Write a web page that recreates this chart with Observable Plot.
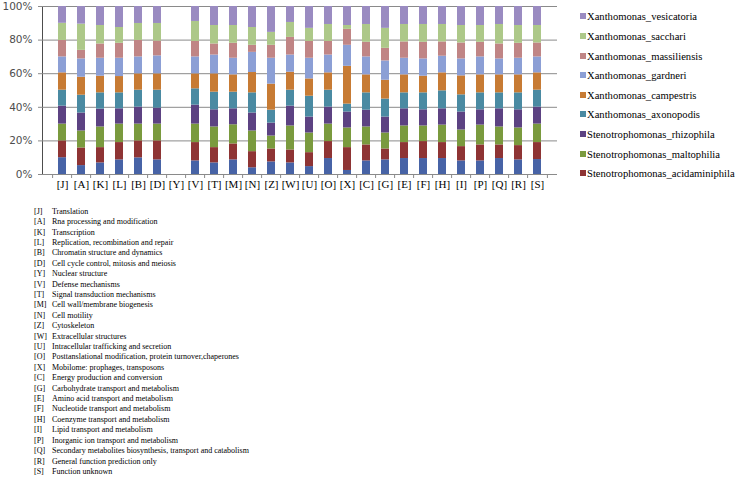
<!DOCTYPE html>
<html>
<head>
<meta charset="utf-8">
<script src="https://cdn.jsdelivr.net/npm/d3@7"></script>
<script src="https://cdn.jsdelivr.net/npm/@observablehq/plot@0.6"></script>
<style>
  html, body { margin: 0; padding: 0; background: #fff; }
  #wrap { position: relative; width: 740px; height: 478px; overflow: hidden; }
  #chart { position: absolute; left: 0; top: 0; }
  .leg { position: absolute; left: 580px; font-family: "Liberation Serif", "Times New Roman", serif; font-size: 10.6px; color: #000; white-space: nowrap; line-height: 12px; height: 12px; }
  .leg span.sw { display: inline-block; width: 6px; height: 6px; margin-right: 1px; vertical-align: 1px; }
  .desc { position: absolute; font-family: "Liberation Serif", "Times New Roman", serif; font-size: 8px; line-height: 10px; height: 10px; color: #000; white-space: nowrap; }
</style>
</head>
<body>
<div id="wrap"><div id="chart"></div></div>
<script>
// ---- Data ----
const categories = ["J","A","K","L","B","D","Y","V","T","M","N","Z","W","U","O","X","C","G","E","F","H","I","P","Q","R","S"];
const descriptions = [
  "Translation",
  "Rna processing and modification",
  "Transcription",
  "Replication, recombination and repair",
  "Chromatin structure and dynamics",
  "Cell cycle control, mitosis and meiosis",
  "Nuclear structure",
  "Defense mechanisms",
  "Signal transduction mechanisms",
  "Cell wall/membrane biogenesis",
  "Cell motility",
  "Cytoskeleton",
  "Extracellular structures",
  "Intracellular trafficking and secretion",
  "Posttanslational modification, protein turnover,chaperones",
  "Mobilome: prophages, transposons",
  "Energy production and conversion",
  "Carbohydrate transport and metabolism",
  "Amino acid transport and metabolism",
  "Nucleotide transport and metabolism",
  "Coenzyme transport and metabolism",
  "Lipid transport and metabolism",
  "Inorganic ion transport and metabolism",
  "Secondary metabolites biosynthesis, transport and catabolism",
  "General function prediction only",
  "Function unknown"
];
// series, bottom to top (the bottom series is not listed in the original legend)
const seriesNames = [
  "Other",
  "Stenotrophomonas_acidaminiphila",
  "Stenotrophomonas_maltophilia",
  "Stenotrophomonas_rhizophila",
  "Xanthomonas_axonopodis",
  "Xanthomonas_campestris",
  "Xanthomonas_gardneri",
  "Xanthomonas_massiliensis",
  "Xanthomonas_sacchari",
  "Xanthomonas_vesicatoria"
];
const seriesColors = ["#4763a6","#8e3434","#7a9a3e","#5c4282","#4a8aa2","#c77b34","#8c9fd5","#c08585","#adc889","#9a8bc1"];
// percentages per category (order of categories above)
const otherVals          = [10,5.3,6.9,8.7,9.9,8.7,0,8.1,6.9,8.7,4,7.5,6.9,4.7,9.5,2.4,8.1,8.7,9.5,9.5,9.5,8.1,8.1,9.5,8.7,8.9];
const acidaminiphilaVals = [10,10.5,9.1,10.3,10.1,11.3,0,10.9,9.1,9.5,9.6,7.7,7.7,8.3,10.1,13.6,9.5,6.5,9.5,10.1,9.5,8.5,9.5,8.1,8.5,10.1];
const maltophiliaVals    = [10,10.1,12.3,11,10,10,0,11,12.3,11.4,12.3,7.7,14.3,11.7,10.4,11.7,10.7,9.5,9.9,9.3,10.4,9.9,11.8,10.7,10.5,11];
const rhizophilaVals     = [10.7,10.7,10.6,9.1,10.1,9.5,0,11.3,10.2,9.5,10.7,7.7,11.8,9.5,10.1,9.5,10,9.5,10.2,9.6,9.7,10.7,9.1,10.8,10.8,10.1];
const axonopodisVals     = [9.5,10.6,9.7,9.5,10.1,10.7,0,9.7,10.5,9.9,12,7.7,9.5,12.4,10.1,4.7,10.3,10.7,9.5,10.1,10.7,10.2,10.1,9.5,10.1,10.1];
const campestrisVals     = [10.3,10.7,9.9,9.7,9.7,9.7,0,8.9,10.9,10.3,12.1,15.5,10.7,10.3,10.3,22.5,10.7,11.2,10.7,9.9,10.7,11.3,10.7,10.7,10.7,10.3];
const gardneriVals       = [9.5,10.9,10.7,10.9,10.1,10.7,0,10.1,11.2,9.9,12,15.4,10.2,12.3,10.6,12.5,10.7,11.5,9.9,10.3,9.9,10.1,10.7,9.5,9.9,9.5];
const massiliensisVals   = [9.8,5.1,8.5,8.9,9.8,8.8,0,9.2,6.6,8.9,4.2,7.7,10.5,10,8.1,9.5,8.7,7.5,9.7,9.9,8.5,9.5,8.7,8.9,8.9,8.3];
const sacchariVals       = [10.2,15.6,11,9.4,10.1,10.5,0,11.9,11,10.6,10.6,7.7,8.9,7.8,10.1,2.3,10.6,11.9,10.4,10.6,10.4,10.4,10,11.6,10.6,10.4];
const vesicatoriaVals    = [10,10.5,11.3,12.5,10.1,10.1,0,8.9,11.3,11.3,12.5,15.4,9.5,13,10.7,11.3,10.7,13,10.7,10.7,10.7,11.3,11.3,10.7,11.3,11.3];
const yTicks = [0, 0.2, 0.4, 0.6, 0.8, 1];

const seriesValues = [otherVals, acidaminiphilaVals, maltophiliaVals, rhizophilaVals, axonopodisVals,
  campestrisVals, gardneriVals, massiliensisVals, sacchariVals, vesicatoriaVals];

// ---- Build table ----
const table = [];
categories.forEach((c, i) => {
  seriesNames.forEach((s, j) => {
    const v = seriesValues[j][i];
    if (v > 0) table.push({cat: c, series: s, value: v});
  });
});

const W = 565, H = 200, ML = 42, MR = 8, MT = 6, MB = 26;
const step = (W - ML - MR) / categories.length;

const plot = Plot.plot({
  width: W, height: H,
  marginLeft: ML, marginRight: MR, marginTop: MT, marginBottom: MB,
  style: {fontFamily: "DejaVu Sans, Verdana, sans-serif", fontSize: "10.5px", color: "#4d4d4d", background: "#fff", overflow: "visible"},
  x: {domain: categories, paddingInner: 0.56, paddingOuter: 0.28, tickSize: 0, tickPadding: 6, tickFormat: d => `[${d}]`, label: null},
  y: {domain: [0, 1], ticks: 5, tickFormat: d => `${Math.round(d * 100)}%`, tickSize: 4, tickPadding: 6, label: null, line: true},
  color: {domain: seriesNames, range: seriesColors},
  marks: [
    Plot.ruleY(yTicks, {y: d => d, stroke: "#8a8a8a", strokeWidth: 1}),
    Plot.barY(table, Plot.stackY({offset: "normalize"}, {x: "cat", y: "value", fill: "series"})),
    Plot.ruleX(categories, {x: d => d, dx: -step / 2, y1: 0, y2: 0, insetBottom: -4, stroke: "#8a8a8a"}),
    Plot.ruleX(categories.slice(-1), {x: d => d, dx: step / 2, y1: 0, y2: 0, insetBottom: -4, stroke: "#8a8a8a"})
  ]
});
document.getElementById("chart").appendChild(plot);

// style tweaks on axes
const svg = d3.select(plot);
svg.selectAll('g[aria-label^="x-axis"] text')
  .style("font-family", "Liberation Serif, Times New Roman, serif")
  .style("font-size", "11px")
  .attr("fill", "#000");
svg.selectAll('g[aria-label^="y-axis"] path, g[aria-label^="y-axis"] line').attr("stroke", "#8a8a8a");
svg.selectAll('g[aria-label^="y-axis"] text').attr("fill", "#4d4d4d");

// ---- Legend (HTML, right) ----
const wrap = document.getElementById("wrap");
const legendSeries = seriesNames.slice(1).reverse();
legendSeries.forEach((s, i) => {
  const div = document.createElement("div");
  div.className = "leg";
  div.style.top = (17.3 + i * 19.6 - 6) + "px";
  const sw = document.createElement("span");
  sw.className = "sw";
  sw.style.background = seriesColors[seriesNames.indexOf(s)];
  div.appendChild(sw);
  div.appendChild(document.createTextNode(s));
  wrap.appendChild(div);
});

// ---- Category descriptions (HTML, below) ----
categories.forEach((c, i) => {
  const y = 211.7 + i * 10.41 - 5;
  const a = document.createElement("div");
  a.className = "desc";
  a.style.left = "34px";
  a.style.top = y + "px";
  a.textContent = `[${c}]`;
  wrap.appendChild(a);
  const b = document.createElement("div");
  b.className = "desc";
  b.style.left = "52px";
  b.style.top = y + "px";
  b.textContent = descriptions[i];
  wrap.appendChild(b);
});
</script>
</body>
</html>
